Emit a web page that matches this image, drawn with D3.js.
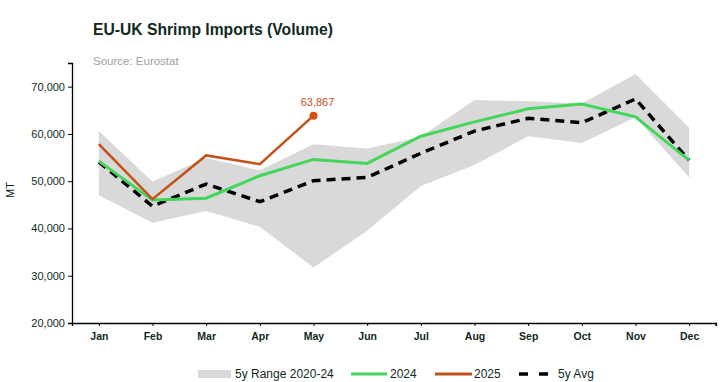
<!DOCTYPE html>
<html><head><meta charset="utf-8">
<script src="https://cdn.jsdelivr.net/npm/d3@7"></script>
<style>body{margin:0;background:#fff}svg{display:block;font-family:"Liberation Sans",Arial,sans-serif}</style>
</head><body><svg id="c" width="720" height="382"></svg>
<script>
const months = ["Jan","Feb","Mar","Apr","May","Jun","Jul","Aug","Sep","Oct","Nov","Dec"];
const rangeLow  = [47050,41200,43700,40350,31750,39500,49000,53400,59500,58100,63500,50800];
const rangeHigh = [60600,49900,54900,52300,57800,56900,59400,67150,66900,66450,72650,61300];
const v2024 = [54250,46000,46400,51150,54600,53760,59500,62550,65300,66300,63600,54400];
const v2025 = [57840,46200,55450,53600,63867];
const avg5y = [54100,44700,49400,45650,50100,50800,55900,60600,63300,62350,67400,54400];
const yTicks = [20000,30000,40000,50000,60000,70000];

const svg = d3.select("#c");
const x = d3.scalePoint().domain(months).range([72,716]).padding(0.5);
const y = d3.scaleLinear().domain([20000,75000]).range([323,63]);
const fmt = d3.format(",");

svg.append("text").attr("x",93).attr("y",35).attr("font-size",16.5).attr("font-weight","bold")
  .attr("fill","#0f2a1d").attr("textLength",240).attr("lengthAdjust","spacingAndGlyphs").text("EU-UK Shrimp Imports (Volume)");
svg.append("text").attr("x",93).attr("y",65).attr("font-size",11.5).attr("fill","#a0a0a0").text("Source: Eurostat");

const area = d3.area().x((d,i)=>x(months[i])).y0((d,i)=>y(rangeLow[i])).y1(d=>y(d));
svg.append("path").datum(rangeHigh).attr("d",area).attr("fill","#d9d9d9");

const line = d3.line().x((d,i)=>x(months[i])).y(d=>y(d));
svg.append("path").datum(avg5y).attr("d",line).attr("fill","none").attr("stroke","#000")
  .attr("stroke-width",3.5).attr("stroke-dasharray","9,6");
svg.append("path").datum(v2024).attr("d",line).attr("fill","none").attr("stroke","#44d65a").attr("stroke-width",3);
svg.append("path").datum(v2025).attr("d",line).attr("fill","none").attr("stroke","#c4501a").attr("stroke-width",2.5);
const last = v2025.length-1;
svg.append("circle").attr("cx",x(months[last])).attr("cy",y(v2025[last])).attr("r",4).attr("fill","#d4500f");
svg.append("text").attr("x",x(months[last])+4).attr("y",y(v2025[last])-10).attr("text-anchor","middle")
  .attr("font-size",11).attr("fill","#c4501a").text(fmt(v2025[last]));

const ya = svg.append("g").attr("transform","translate(72,0)")
  .call(d3.axisLeft(y).tickValues(yTicks).tickSize(4).tickFormat(fmt));
const xa = svg.append("g").attr("transform","translate(0,323)")
  .call(d3.axisBottom(x).tickSize(3).tickPadding(7));
[ya,xa].forEach(a=>{a.select(".domain").attr("stroke","#000").attr("stroke-width",1.3);
  a.selectAll(".tick line").attr("stroke","#000");
  a.selectAll("text").attr("fill","#0f2a1d").attr("font-size",11).attr("font-family","Liberation Sans, Arial, sans-serif");});
xa.selectAll("text").attr("font-weight","bold").attr("font-size",10.5);
svg.append("line").attr("x1",716).attr("x2",716).attr("y1",323).attr("y2",326).attr("stroke","#000");

svg.append("text").attr("transform","translate(14,190) rotate(-90)").attr("text-anchor","middle")
  .attr("font-size",11).attr("fill","#0f2a1d").text("MT");

const lg = svg.append("g");
const ly = 374;
lg.append("rect").attr("x",198).attr("y",ly-4).attr("width",33).attr("height",8).attr("fill","#d9d9d9");
lg.append("text").attr("x",235).attr("y",ly+4).attr("font-size",12).attr("fill","#0f2a1d").text("5y Range 2020-24");
lg.append("line").attr("x1",351).attr("x2",387).attr("y1",ly).attr("y2",ly).attr("stroke","#44d65a").attr("stroke-width",3);
lg.append("text").attr("x",390).attr("y",ly+4).attr("font-size",12).attr("fill","#0f2a1d").text("2024");
lg.append("line").attr("x1",435).attr("x2",472).attr("y1",ly).attr("y2",ly).attr("stroke","#c4501a").attr("stroke-width",3);
lg.append("text").attr("x",474).attr("y",ly+4).attr("font-size",12).attr("fill","#0f2a1d").text("2025");
lg.append("line").attr("x1",519).attr("x2",548).attr("y1",ly).attr("y2",ly).attr("stroke","#000").attr("stroke-width",3.5).attr("stroke-dasharray","9,11");
lg.append("text").attr("x",558).attr("y",ly+4).attr("font-size",12).attr("fill","#0f2a1d").text("5y Avg");
</script></body></html>
